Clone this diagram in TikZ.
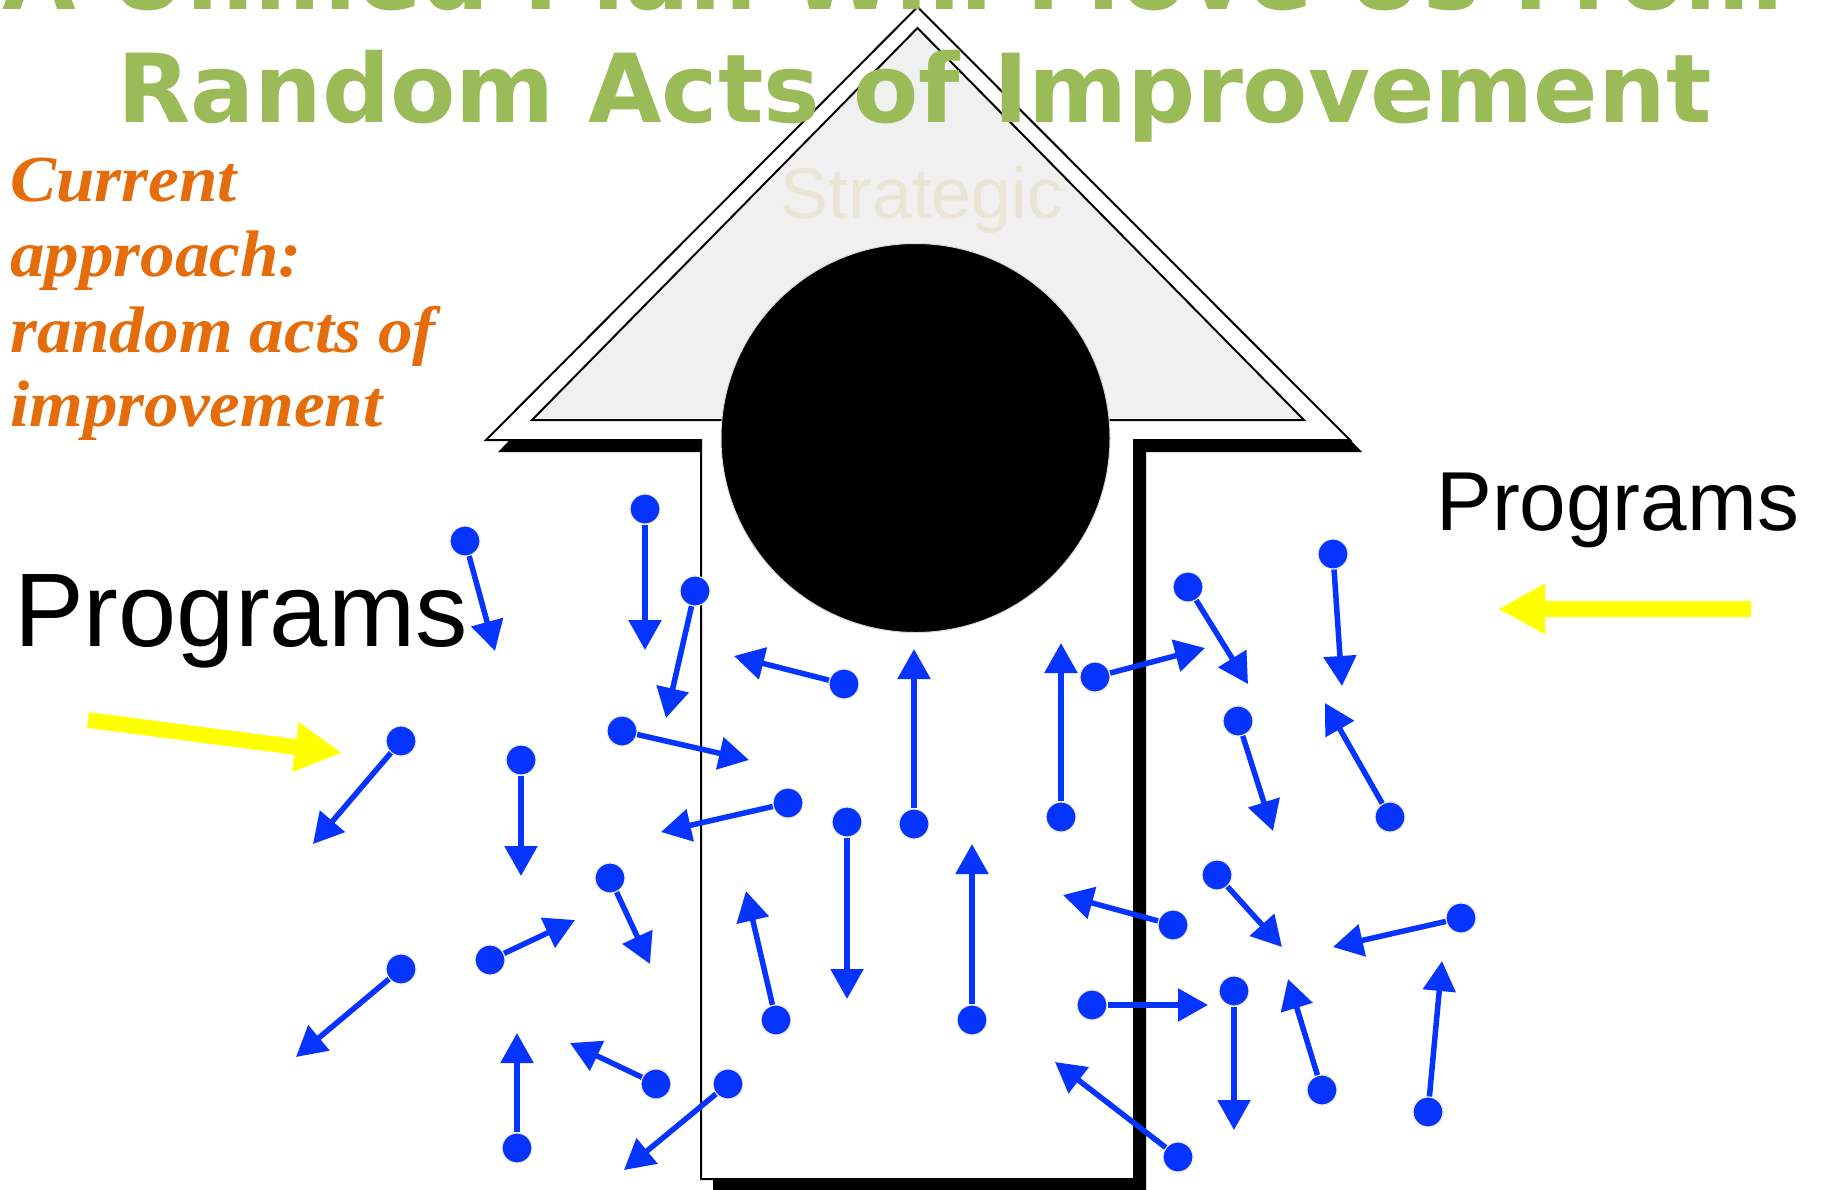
\documentclass[tikz,border=0pt]{standalone}
\usepackage{fontspec}
\setmainfont{Liberation Sans}
\newfontfamily\titlefont{DejaVu Sans}
\newfontfamily\orangefont[FakeStretch=1.05]{Liberation Serif}
\usetikzlibrary{arrows.meta}
\definecolor{titlegreen}{RGB}{155,187,89}
\definecolor{orangec}{RGB}{228,108,10}
\definecolor{stratc}{RGB}{232,229,214}
\definecolor{dotedge}{RGB}{238,236,225}
\definecolor{dotblue}{RGB}{5,51,255}
\definecolor{yel}{RGB}{255,255,0}
\definecolor{stip}{RGB}{240,240,240}
\begin{document}
\begin{tikzpicture}[x=1bp,y=-1bp,
  dot/.style={circle, fill=dotblue, draw=dotedge, line width=1.2bp, minimum size=30bp, inner sep=0pt},
  barrow/.style={draw=dotblue, line width=5.5bp, -{Triangle[length=30bp,width=32bp]}},
  yarrow/.style={draw=yel, line width=15.7bp, -{Triangle[length=47bp,width=47bp]}},
  lbl/.style={inner sep=0pt, anchor=base west},
  titletext/.style={inner sep=0pt, anchor=base, text=titlegreen, font=\titlefont\bfseries\fontsize{95.5}{95.5}\selectfont},
  orangetext/.style={lbl, text=orangec, font=\orangefont\bfseries\itshape\fontsize{66}{75}\selectfont},
  housepath/.style={line width=2bp, line join=miter}
]
\useasboundingbox (0,0) rectangle (1821,1189);
\clip (0,0) rectangle (1821,1189);
\fill[white] (0,0) rectangle (1821,1189);

% house-shaped arrow: shadow, body, inner triangle
\begin{scope}[shift={(12,12)}]
\fill[black] (917.5,7) -- (1350,440) -- (1134,440) -- (1134,1179) -- (701,1179) -- (701,440) -- (486,440) -- cycle;
\end{scope}
\draw[housepath, fill=white] (917.5,7) -- (1350,440) -- (1134,440) -- (1134,1179) -- (701,1179) -- (701,440) -- (486,440) -- cycle;
\draw[housepath, fill=stip] (917.5,28) -- (1304,420) -- (532,420) -- cycle;

\node[inner sep=0pt, anchor=base, text=stratc, font=\fontsize{72}{72}\selectfont] (strat) at (922,218) {Strategic};
\node[circle, fill=black, draw=black!15, line width=1bp, minimum size=389bp, inner sep=0pt] (hole) at (915.5,438) {};

% title
\node[titletext] (title1) at (893,9) {A Unified Plan Will Move Us From};
\node[titletext] (title2) at (914.5,122) {Random Acts of Improvement};

% orange text
\node[orangetext] (cur1) at (10,201) {Current};
\node[orangetext] (cur2) at (10,276.7) {approach:};
\node[orangetext] (cur3) at (10,352.7) {random acts of};
\node[orangetext] (cur4) at (10,426.7) {improvement};

% Programs labels
\node[lbl, font=\fontsize{105}{105}\selectfont] (progL) at (14,646) {Programs};
\node[lbl, font=\fontsize{84}{84}\selectfont] (progR) at (1436,530) {Programs};

% yellow arrows
\coordinate (yL0) at (88,720);
\coordinate (yL1) at (342,753);
\draw[yarrow] (yL0) -- (yL1);
\coordinate (yR0) at (1751,609);
\coordinate (yR1) at (1498,609);
\draw[yarrow] (yR0) -- (yR1);

% blue arrows
\foreach \n/\dx/\dy/\tx/\ty in {
 1/465/541/495/651,
 2/645/509/645/650,
 3/695/591/666/718,
 4/401/741/313/844,
 5/521/760/521/876,
 6/622/731/749/760,
 7/844/684/734/656,
 8/788/803/661/832,
 9/847/822/847/999,
 10/914/824/914/649,
 11/610/878/650/964,
 12/490/960/575/920,
 13/401/969/296/1057,
 14/776/1020/746/891,
 15/972/1020/972/844,
 16/517/1148/517/1033,
 17/656/1084/570/1043,
 18/728/1084/624/1170,
 19/1061/817/1061/643,
 20/1095/677/1205/648,
 21/1188/587/1248/684,
 22/1333/554/1342/686,
 23/1238/721/1273/831,
 24/1390/817/1325/703,
 25/1173/925/1063/895,
 26/1217/875/1282/947,
 27/1461/918/1333/947,
 28/1092/1005/1208/1005,
 29/1234/991/1234/1130,
 30/1322/1090/1288/979,
 31/1428/1112/1442/961,
 32/1178/1157/1055/1062}
{
  \node[dot] (d\n) at (\dx,\dy) {};
  \coordinate (t\n) at (\tx,\ty);
  \draw[barrow] (d\n) -- (t\n);
}
\end{tikzpicture}
\end{document}
